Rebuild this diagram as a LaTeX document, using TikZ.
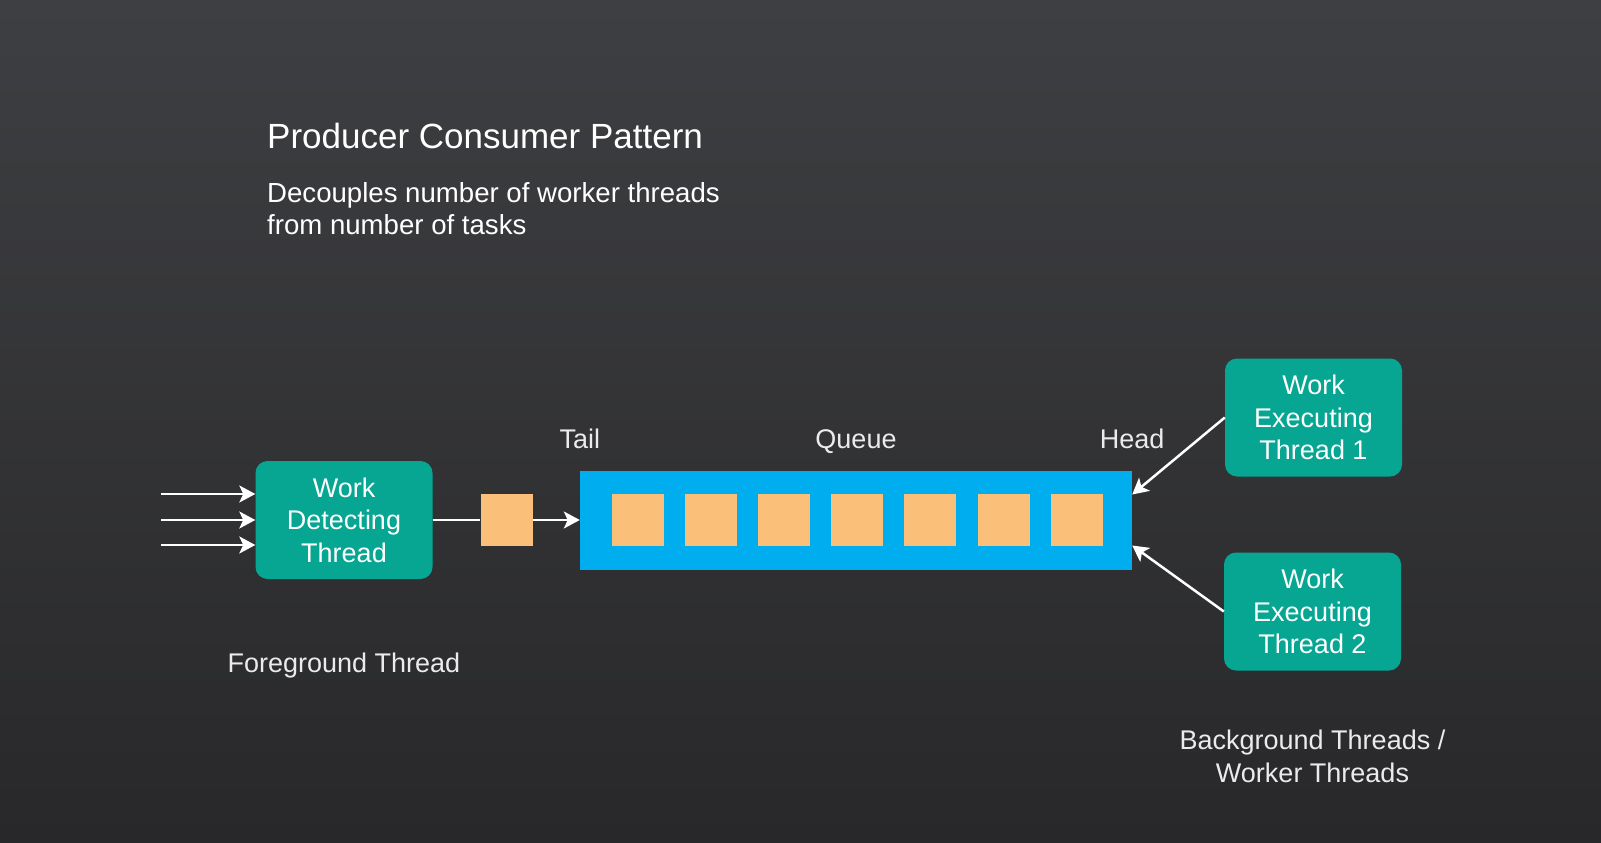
\documentclass[tikz,border=0pt]{standalone}
\usepackage{fontspec}
\setmainfont{Liberation Sans}
\usetikzlibrary{arrows.meta,positioning}
\definecolor{bgtop}{HTML}{3E3F42}
\definecolor{bgbot}{HTML}{28282A}
\definecolor{threadgreen}{HTML}{06A692}
\definecolor{queueblue}{HTML}{00ADEF}
\definecolor{taskorange}{HTML}{FABF78}
\definecolor{taggray}{HTML}{EBEBEB}
\tikzset{
  thread/.style={fill=threadgreen, rounded corners=12pt, minimum width=177pt,
    minimum height=118pt, inner sep=0pt, align=center, text=white,
    font=\fontsize{27}{32.5}\selectfont},
  task/.style={fill=taskorange, minimum size=52pt, inner sep=0pt},
  tag/.style={text=taggray, inner sep=0pt, align=center,
    font=\fontsize{27}{32.7}\selectfont},
  flow/.style={draw=white, line width=2.5pt, -{Stealth[length=16pt,width=17pt,inset=4pt]}},
}
\begin{document}
\begin{tikzpicture}[x=1pt,y=-1pt,line join=round]
  \shade[top color=bgtop,bottom color=bgbot] (0,0) rectangle (1601,843);
  \useasboundingbox (0,0) rectangle (1601,843);
  % heading
  \node[anchor=base west, inner sep=0pt, text=white,
    font=\fontsize{35}{42}\selectfont] (title) at (267,148) {Producer Consumer Pattern};
  \node[tag, anchor=north west, align=left, text=white,
    font=\fontsize{27.6}{32.7}\selectfont] (subtitle) at (267,182)
    {Decouples number of worker threads\\from number of tasks};
  % producer side
  \node[thread] (detect) at (344,520) {Work\\Detecting\\Thread};
  \foreach \y [count=\i] in {494,520,545} {
    \coordinate (in\i) at (161,\y);
    \draw[flow] (in\i) -- (in\i -| detect.west);
  }
  \node[task] (newtask) at (506.5,520) {};
  % queue
  \node[fill=queueblue, minimum width=552pt, minimum height=99pt, inner sep=0pt]
    (queue) at (856,520.5) {};
  \foreach \k in {0,...,6}
    \node[task] (q\k) at ({637.5+\k*73.2},520) {};
  \draw[white, line width=2.5pt] (detect) -- (newtask);
  \draw[flow] (newtask) -- (newtask -| queue.west);
  \node[tag, anchor=base] (tail) at ([yshift=22pt]queue.north west) {Tail};
  \node[tag, anchor=base] (qtag) at ([yshift=22pt]queue.north) {Queue};
  \node[tag, anchor=base] (head) at ([yshift=22pt]queue.north east) {Head};
  % consumer side
  \node[thread] (exec1) at (1313.5,417.5) {Work\\Executing\\Thread 1};
  \node[thread] (exec2) at (1312.5,611.5) {Work\\Executing\\Thread 2};
  \draw[flow] (exec1.west) -- ([yshift=26pt]queue.east);
  \draw[flow] (exec2.west) -- ([yshift=-25pt]queue.east);
  \node[tag, anchor=base] (fgtag) at ([yshift=-93pt]detect.south) {Foreground Thread};
  \node[tag, anchor=north] (bgtag) at ([yshift=-59pt]exec2.south)
    {Background Threads /\\Worker Threads};
\end{tikzpicture}
\end{document}
